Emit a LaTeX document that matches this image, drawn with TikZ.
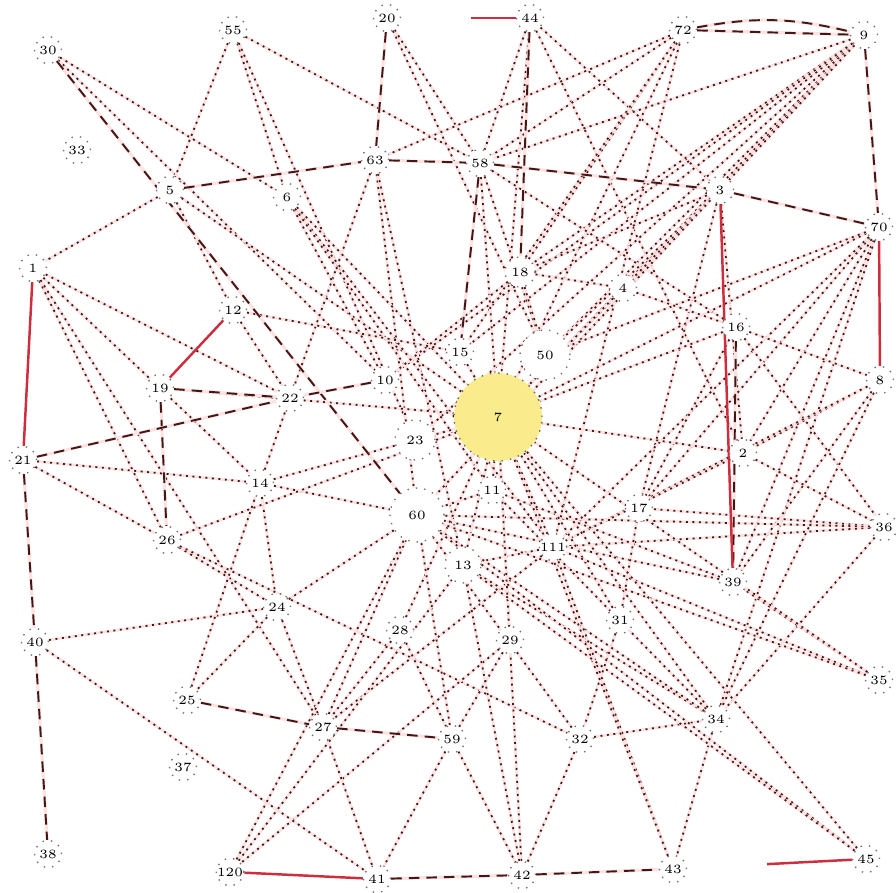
\documentclass[tikz,border=0pt]{standalone}
\usepackage{tikz}
\usetikzlibrary{arrows.meta,positioning,backgrounds}
\definecolor{wire}{RGB}{70,22,22}
\definecolor{hot}{RGB}{205,45,60}
\definecolor{halo}{RGB}{252,226,226}
\definecolor{sun}{RGB}{250,236,140}

\begin{document}
\begin{tikzpicture}[font=\fontsize{3.6}{4}\selectfont,
   v/.style={circle, draw=black!55, dotted, fill=white, inner sep=0pt, minimum size=2.7mm},
   big/.style={v, minimum size=#1},
   lnk/.style={draw=wire, line width=0.5pt, dash pattern=on 0.55pt off 1.3pt,
      preaction={draw=halo, solid, line width=0.8pt}},
   dsh/.style={draw=wire, line width=0.55pt, dash pattern=on 3pt off 2pt,
      preaction={draw=halo, solid, line width=0.9pt}},
   hotl/.style={draw=hot, line width=0.7pt}]
\useasboundingbox (0,0) rectangle (8.96,8.92);
% top row
\node[v] (n30) at (0.48,8.42) {30};
\node[v] (n55) at (2.33,8.62) {55};
\node[v] (n20) at (3.87,8.74) {20};
\node[v] (n44) at (5.30,8.74) {44};
\node[v] (n72) at (6.83,8.62) {72};
\node[v] (n9) at (8.64,8.57) {9};
\node[v] (n33) at (0.77,7.42) {33};
\node[v] (n63) at (3.75,7.32) {63};
\node[v] (n58) at (4.80,7.29) {58};
\node[v] (n5) at (1.70,7.02) {5};
\node[v] (n6) at (2.87,6.95) {6};
\node[v] (n3) at (7.20,7.02) {3};
\node[v] (n70) at (8.79,6.65) {70};
\node[v] (n1) at (0.33,6.24) {1};
\node[big=3mm] (n18) at (5.20,6.20) {18};
\node[v] (n4) at (6.23,6.04) {4};
\node[v] (n12) at (2.33,5.82) {12};
% middle
\node[v] (n15) at (4.60,5.40) {15};
\node[big=5mm] (n50) at (5.45,5.37) {50};
\node[v] (n10) at (3.85,5.12) {10};
\node[v] (n19) at (1.60,5.04) {19};
\node[v] (n22) at (2.90,4.94) {22};
\node[v] (n16) at (7.36,5.65) {16};
\node[v] (n8) at (8.80,5.12) {8};
\node[circle, draw=black!60, dotted, fill=sun, minimum size=8.8mm, inner sep=0pt] (n7) at (4.98,4.75) {7};
\node[big=4mm] (n23) at (4.15,4.52) {23};
\node[v] (n21) at (0.23,4.32) {21};
\node[v] (n2) at (7.43,4.39) {2};
\node[v] (n14) at (2.60,4.09) {14};
\node[v] (n11) at (4.92,4.02) {11};
\node[big=5.4mm] (n60) at (4.17,3.77) {60};
\node[v] (n17) at (6.39,3.84) {17};
\node[v] (n36) at (8.84,3.65) {36};
\node[v] (n26) at (1.67,3.52) {26};
\node[v] (n111) at (5.53,3.45) {111};
\node[big=3.6mm] (n13) at (4.63,3.27) {13};
\node[v] (n39) at (7.33,3.10) {39};
\node[v] (n24) at (2.77,2.85) {24};
\node[v] (n28) at (4.00,2.62) {28};
\node[v] (n29) at (5.10,2.52) {29};
\node[v] (n31) at (6.20,2.72) {31};
% bottom
\node[v] (n40) at (0.35,2.50) {40};
\node[v] (n25) at (1.87,1.92) {25};
\node[v] (n27) at (3.23,1.65) {27};
\node[v] (n59) at (4.52,1.53) {59};
\node[v] (n32) at (5.80,1.53) {32};
\node[v] (n34) at (7.16,1.73) {34};
\node[v] (n35) at (8.79,2.12) {35};
\node[v] (n37) at (1.83,1.25) {37};
\node[v] (n38) at (0.48,0.38) {38};
\node[v] (n120) at (2.30,0.20) {120};
\node[v] (n41) at (3.77,0.13) {41};
\node[v] (n42) at (5.22,0.17) {42};
\node[v] (n43) at (6.73,0.23) {43};
\node[v] (n45) at (8.66,0.33) {45};

\begin{scope}[on background layer]
% dotted links
\draw[lnk] (n30)--(n6); \draw[lnk] (n30)--(n10);
\draw[lnk] (n55)--(n5); \draw[lnk] (n55)--(n6); \draw[lnk] (n55)--(n58); \draw[lnk] (n55)--(n23);
\draw[lnk] (n20)--(n58); \draw[lnk] (n20)--(n50);
\draw[lnk] (n44)--(n58); \draw[lnk] (n44)--(n7); \draw[lnk] (n44)--(n3); \draw[lnk] (n44)--(n2);
\draw[lnk] (n72)--(n58); \draw[lnk] (n72)--(n63); \draw[lnk] (n72)--(n18); \draw[lnk] (n72)--(n15);
\draw[lnk] (n72)--(n7); \draw[lnk] (n72)--(n111);
\draw[lnk] (n9)--(n58); \draw[lnk] (n9)--(n18); \draw[lnk] (n9)--(n50); \draw[lnk] (n9)--(n7);
\draw[lnk] (n9)--(n23); \draw[lnk] (n9)--(n60); \draw[lnk] (n9)--(n15); \draw[lnk] (n9)--(n10);
\draw[lnk] (n63)--(n22); \draw[lnk] (n63)--(n60); \draw[lnk] (n63)--(n13);
\draw[lnk] (n58)--(n50); \draw[lnk] (n58)--(n16); \draw[lnk] (n58)--(n7);
\draw[lnk] (n5)--(n1); \draw[lnk] (n5)--(n12); \draw[lnk] (n5)--(n7);
\draw[lnk] (n6)--(n10); \draw[lnk] (n6)--(n111); \draw[lnk] (n6)--(n7); \draw[lnk] (n6)--(n11);
\draw[lnk] (n3)--(n50); \draw[lnk] (n3)--(n18); \draw[lnk] (n3)--(n7); \draw[lnk] (n3)--(n4);
\draw[lnk] (n3)--(n2); \draw[lnk] (n3)--(n17); \draw[lnk] (n3)--(n60);
\draw[lnk] (n70)--(n7); \draw[lnk] (n70)--(n50); \draw[lnk] (n70)--(n17); \draw[lnk] (n70)--(n2);
\draw[lnk] (n70)--(n39); \draw[lnk] (n70)--(n34); \draw[lnk] (n70)--(n111);
\draw[lnk] (n1)--(n14); \draw[lnk] (n1)--(n26); \draw[lnk] (n1)--(n27); \draw[lnk] (n1)--(n22);
\draw[lnk] (n18)--(n4); \draw[lnk] (n18)--(n50); \draw[lnk] (n18)--(n10);
\draw[lnk] (n4)--(n7); \draw[lnk] (n4)--(n16);
\draw[lnk] (n12)--(n15); \draw[lnk] (n12)--(n22); \draw[lnk] (n15)--(n7);
\draw[lnk] (n16)--(n17); \draw[lnk] (n16)--(n7); \draw[lnk] (n16)--(n8); \draw[lnk] (n16)--(n36);
\draw[lnk] (n8)--(n2); \draw[lnk] (n8)--(n111); \draw[lnk] (n8)--(n39); \draw[lnk] (n8)--(n34);
\draw[lnk] (n21)--(n26); \draw[lnk] (n21)--(n14);
\draw[lnk] (n2)--(n36); \draw[lnk] (n2)--(n111); \draw[lnk] (n2)--(n7);
\draw[lnk] (n14)--(n7); \draw[lnk] (n14)--(n22); \draw[lnk] (n14)--(n60); \draw[lnk] (n14)--(n24);
\draw[lnk] (n11)--(n7); \draw[lnk] (n11)--(n60);
\draw[lnk] (n36)--(n17); \draw[lnk] (n36)--(n111); \draw[lnk] (n36)--(n60); \draw[lnk] (n36)--(n34);
\draw[lnk] (n26)--(n24); \draw[lnk] (n26)--(n7); \draw[lnk] (n26)--(n32);
\draw[lnk] (n111)--(n13); \draw[lnk] (n111)--(n7); \draw[lnk] (n111)--(n27);
\draw[lnk] (n13)--(n7); \draw[lnk] (n13)--(n34);
\draw[lnk] (n39)--(n11); \draw[lnk] (n39)--(n60);
\draw[lnk] (n24)--(n25); \draw[lnk] (n24)--(n27); \draw[lnk] (n24)--(n60);
\draw[lnk] (n28)--(n7); \draw[lnk] (n28)--(n27); \draw[lnk] (n28)--(n59);
\draw[lnk] (n29)--(n59); \draw[lnk] (n29)--(n7); \draw[lnk] (n29)--(n120);
\draw[lnk] (n31)--(n7); \draw[lnk] (n31)--(n32); \draw[lnk] (n31)--(n17);
\draw[lnk] (n40)--(n24); \draw[lnk] (n40)--(n41); \draw[lnk] (n25)--(n14);
\draw[lnk] (n27)--(n60); \draw[lnk] (n27)--(n41);
\draw[lnk] (n59)--(n60); \draw[lnk] (n59)--(n41); \draw[lnk] (n59)--(n42);
\draw[lnk] (n32)--(n42); \draw[lnk] (n32)--(n60); \draw[lnk] (n32)--(n34);
\draw[lnk] (n34)--(n43); \draw[lnk] (n34)--(n11); \draw[lnk] (n34)--(n60); \draw[lnk] (n34)--(n7);
\draw[lnk] (n35)--(n39); \draw[lnk] (n35)--(n7); \draw[lnk] (n35)--(n111); \draw[lnk] (n35)--(n60);
\draw[lnk] (n120)--(n13); \draw[lnk] (n120)--(n60);
\draw[lnk] (n42)--(n7); \draw[lnk] (n42)--(n13);
\draw[lnk] (n43)--(n111); \draw[lnk] (n43)--(n7);
\draw[lnk] (n45)--(n60); \draw[lnk] (n45)--(n7); \draw[lnk] (n45)--(n13);
\draw[lnk] (n19)--(n7);
% dashed links
\draw[dsh] (n30)--(n60); \draw[dsh] (n20)--(n63); \draw[dsh] (n44)--(n18); \draw[dsh] (n9)--(n70);
\draw[dsh] (n63)--(n58); \draw[dsh] (n58)--(n3); \draw[dsh] (n5)--(n63); \draw[dsh] (n58)--(n15);
\draw[dsh] (n19)--(n22); \draw[dsh] (n19)--(n26); \draw[dsh] (n21)--(n40); \draw[dsh] (n40)--(n38);
\draw[dsh] (n41)--(n42); \draw[dsh] (n42)--(n43); \draw[dsh] (n16)--(n39); \draw[dsh] (n21)--(n22);
\draw[dsh] (n25)--(n27); \draw[dsh] (n27)--(n59); \draw[dsh] (n10)--(n22); \draw[dsh] (n3)--(n70);
\draw[dsh] (n72)--(n9); \draw[dsh] (n72) to[bend left=12] (n9);
% red solid ones
\draw[hotl] (n1)--(n21); \draw[hotl] (n3)--(n39); \draw[hotl] (n70)--(n8);
\draw[hotl] (n12)--(n19); \draw[hotl] (n120)--(n41); \draw[hotl, shorten <=8mm] (n43)--(n45);
\draw[hotl, shorten <=7mm] (n20)--(n44);
\end{scope}
\end{tikzpicture}
\end{document}
